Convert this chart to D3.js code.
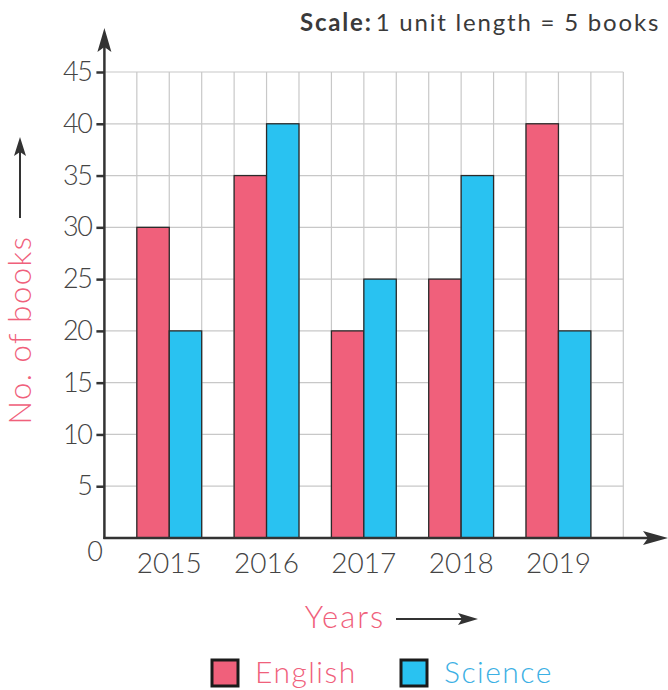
<!DOCTYPE html>
<html>
<head>
<meta charset="utf-8">
<script src="https://cdn.jsdelivr.net/npm/d3@7"></script>
<style>
  body { margin: 0; background: #fff; }
  text { font-family: "Lato", "Open Sans", sans-serif; }
</style>
</head>
<body>
<div id="chart"></div>
<script>
var WIDTH = 668
var HEIGHT = 690

// data
var years = ['2015', '2016', '2017', '2018', '2019'];
var english = [30, 35, 20, 25, 40];
var science = [20, 40, 25, 35, 20];
var yTicks = [5, 10, 15, 20, 25, 30, 35, 40, 45];
var seriesNames = ['English', 'Science'];

var PINK = '#f0607b';
var BLUE = '#29c2f1';
var INK = '#333';

var plotLeft = 104.4, plotRight = 623.3, plotTop = 72, plotBottom = 538;
var cols = 16;

const svg = d3.select('#chart').append('svg')
    .attr('width', WIDTH)
    .attr('height', HEIGHT);

var y = d3.scaleLinear().domain([0, 45]).range([plotBottom, plotTop]);
var gridX = d3.scaleLinear().domain([0, cols]).range([plotLeft, plotRight]);
var x = d3.scaleBand().domain(years).range([plotLeft, plotRight])
    .paddingInner(1 / 3).paddingOuter(1 / 3);
var sub = d3.scaleBand().domain(seriesNames).range([0, x.bandwidth()]);
var color = d3.scaleOrdinal().domain(seriesNames).range([PINK, BLUE]);

// grid
var g = svg.append('g');
g.selectAll('line.vgrid')
    .data(d3.range(1, cols + 1))
    .enter()
    .append('line')
    .attr('class', 'vgrid')
    .attr('x1', d => gridX(d)).attr('x2', d => gridX(d))
    .attr('y1', plotTop).attr('y2', plotBottom)
    .attr('stroke', '#c8c8c8').attr('stroke-width', 1.2);
g.selectAll('line.hgrid')
    .data(yTicks)
    .enter()
    .append('line')
    .attr('class', 'hgrid')
    .attr('x1', plotLeft).attr('x2', plotRight)
    .attr('y1', d => y(d)).attr('y2', d => y(d))
    .attr('stroke', '#c8c8c8').attr('stroke-width', 1.2);

// bars
var rows = years.map((yr, i) => ({ year: yr, English: english[i], Science: science[i] }));
var groups = svg.selectAll('g.year')
    .data(rows)
    .enter()
    .append('g')
    .attr('class', 'year')
    .attr('transform', d => 'translate(' + x(d.year) + ',0)');
groups.selectAll('rect')
    .data(d => seriesNames.map(s => ({ key: s, value: d[s] })))
    .enter()
    .append('rect')
    .attr('x', d => sub(d.key))
    .attr('width', sub.bandwidth())
    .attr('y', d => y(d.value))
    .attr('height', d => y(0) - y(d.value))
    .attr('fill', d => color(d.key))
    .attr('stroke', '#2a2a2a')
    .attr('stroke-width', 1.3);

// axes
var yAxis = d3.axisLeft(y).tickValues(yTicks).tickSize(8).tickPadding(5);
var ya = svg.append('g').attr('transform', 'translate(' + plotLeft + ',0)').call(yAxis);
ya.select('.domain').remove();
ya.selectAll('.tick line').attr('stroke', INK).attr('stroke-width', 2.5);
ya.selectAll('.tick text')
    .attr('font-size', 27).attr('fill', '#444')
    .attr('letter-spacing', -1.5)
    .style('font-family', 'Lato, sans-serif').style('font-weight', 300);

var xAxis = d3.axisBottom(x).tickSize(0).tickPadding(15);
var xa = svg.append('g').attr('transform', 'translate(0,' + plotBottom + ')').call(xAxis);
xa.select('.domain').remove();
xa.selectAll('.tick text')
    .attr('font-size', 28).attr('fill', '#444')
    .style('font-family', 'Lato, sans-serif').style('font-weight', 300);

svg.append('text')
    .attr('x', 95).attr('y', 561)
    .attr('text-anchor', 'middle')
    .attr('font-size', 27).attr('fill', '#444')
    .style('font-weight', 300)
    .text('0');

// axis lines with arrows
svg.append('line')
    .attr('x1', plotLeft).attr('x2', plotLeft)
    .attr('y1', plotBottom + 1).attr('y2', 45)
    .attr('stroke', INK).attr('stroke-width', 2.5);
svg.append('path')
    .attr('d', d3.line()([[plotLeft, 28], [plotLeft - 7, 52], [plotLeft, 47], [plotLeft + 7, 52]]) + 'Z')
    .attr('fill', INK);
svg.append('line')
    .attr('x1', plotLeft - 1).attr('x2', 650)
    .attr('y1', plotBottom).attr('y2', plotBottom)
    .attr('stroke', INK).attr('stroke-width', 2.5);
svg.append('path')
    .attr('d', d3.line()([[668, plotBottom], [643, plotBottom - 7], [648, plotBottom], [643, plotBottom + 7]]) + 'Z')
    .attr('fill', INK);

// y title
var yt = svg.append('g').attr('transform', 'translate(31,' + 330 + ') rotate(-90)');
yt.append('text')
    .attr('text-anchor', 'middle')
    .attr('font-size', 31).attr('fill', PINK)
    .attr('letter-spacing', 1.5)
    .style('font-weight', 300)
    .text('No. of books');
svg.append('line')
    .attr('x1', 20).attr('x2', 20)
    .attr('y1', 218).attr('y2', 150)
    .attr('stroke', INK).attr('stroke-width', 2);
svg.append('path')
    .attr('d', d3.line()([[20, 137], [14, 156], [20, 152], [26, 156]]) + 'Z')
    .attr('fill', INK);

// x title
svg.append('text')
    .attr('x', 345).attr('y', 628)
    .attr('text-anchor', 'middle')
    .attr('font-size', 31).attr('fill', PINK)
    .attr('letter-spacing', 2)
    .style('font-weight', 300)
    .text('Years');
svg.append('line')
    .attr('x1', 396).attr('x2', 465)
    .attr('y1', 619).attr('y2', 619)
    .attr('stroke', INK).attr('stroke-width', 2);
svg.append('path')
    .attr('d', d3.line()([[478, 619], [458, 613], [462, 619], [458, 625]]) + 'Z')
    .attr('fill', INK);

// scale note
var sc = svg.append('text')
    .attr('x', 300).attr('y', 31)
    .attr('font-size', 24).attr('fill', '#3a3a3a')
    .attr('letter-spacing', 1.8);
sc.append('tspan').style('font-weight', 700).text('Scale:');
sc.append('tspan').attr('dx', 3).style('font-weight', 400).text('1 unit length = 5 books');

// legend
var legendX = [212, 401];
var lg = svg.selectAll('g.legend')
    .data(seriesNames)
    .enter()
    .append('g')
    .attr('class', 'legend')
    .attr('transform', (d, i) => 'translate(' + legendX[i] + ',660)');
lg.append('rect')
    .attr('width', 26).attr('height', 26)
    .attr('fill', d => color(d))
    .attr('stroke', '#1a1a1a').attr('stroke-width', 3);
lg.append('text')
    .attr('x', 43).attr('y', 23)
    .attr('font-size', 30)
    .attr('letter-spacing', 1.5)
    .attr('fill', d => d == 'English' ? PINK : '#3cb0e4')
    .style('font-weight', 300)
    .text(d => d);
</script>
</body>
</html>
